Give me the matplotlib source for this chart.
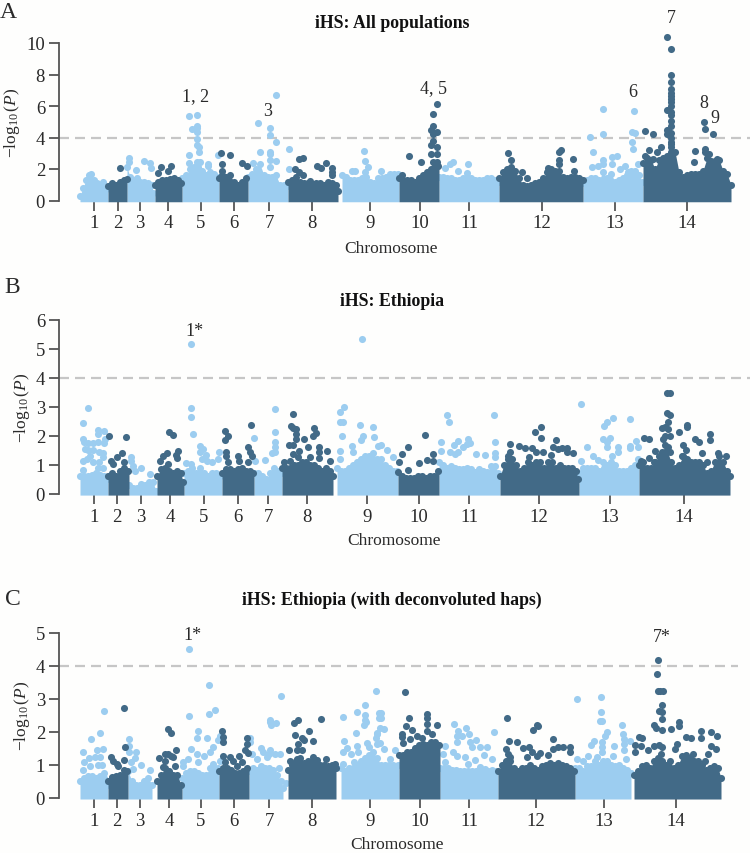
import matplotlib
matplotlib.use('Agg')
from matplotlib import pyplot as plt

plt.rcParams['font.family'] = ['Liberation Serif', 'DejaVu Serif']
plt.rcParams['mathtext.fontset'] = 'custom'
plt.rcParams['mathtext.rm'] = 'Liberation Serif'
plt.rcParams['mathtext.it'] = 'Liberation Serif:italic'
plt.rcParams['mathtext.default'] = 'rm'

light = '#9ccdf0'
dark = '#426a87'
ink = '#2a2a2a'
W, H = 750, 854

# x is genome position on one running scale, y is -log10(P)
# one row per chromosome: top of the solid mass of points
a_mass_x = [
    [80, 83, 86, 89, 91, 94, 97, 100, 103, 106],
    [108, 112, 116, 120, 124, 127],
    [127, 130, 133, 137, 140, 144, 148, 152, 153],
    [155, 158, 162, 166, 170, 174, 178, 181],
    [182, 186, 190, 194, 198, 202, 206, 210, 214, 218],
    [219, 222, 226, 230, 234, 238, 242, 246],
    [248, 252, 256, 260, 264, 268, 272, 276, 280, 284, 287],
    [288, 292, 296, 300, 304, 308, 312, 316, 320, 324, 328, 332, 336, 338],
    [342, 346, 350, 354, 358, 362, 366, 370, 374, 378, 382, 386, 390, 394, 398],
    [399, 403, 407, 411, 415, 419, 423, 427, 431, 435, 438],
    [439, 443, 447, 451, 455, 459, 463, 467, 471, 475, 479, 483, 487, 491, 495, 498],
    [499, 503, 507, 511, 515, 519, 523, 527, 531, 535, 539, 543, 547, 551, 555, 559, 563, 567, 571, 575, 579, 583],
    [583, 587, 591, 595, 599, 603, 607, 611, 615, 619, 623, 627, 631, 635, 639, 642],
    [643, 647, 651, 655, 659, 663, 667, 671, 675, 679, 683, 687, 691, 695, 699, 703, 707, 711, 715, 719, 723, 727, 731],
]
a_mass_y = [
    [0.3, 0.8, 1.3, 1.6, 1.7, 1.3, 1.1, 1.0, 1.2, 0.7],
    [0.9, 1.1, 1.0, 1.2, 1.3, 1.35],
    [2.1, 1.5, 1.3, 1.4, 1.2, 1.2, 1.1, 1.0, 0.5],
    [1.0, 1.2, 1.3, 1.3, 1.35, 1.4, 1.3, 1.1],
    [1.4, 1.6, 2.0, 2.1, 2.1, 1.9, 1.6, 1.8, 1.7, 1.5],
    [1.4, 1.6, 1.5, 1.6, 1.2, 1.0, 1.2, 1.4],
    [1.5, 1.7, 2.0, 2.3, 1.6, 1.5, 1.5, 1.6, 1.0, 1.0, 0.9],
    [1.2, 1.3, 1.5, 1.2, 1.1, 1.1, 1.0, 1.1, 1.1, 1.0, 1.2, 1.1, 1.0, 0.6],
    [1.6, 1.5, 1.3, 1.3, 1.3, 1.4, 1.5, 1.2, 1.1, 1.4, 1.4, 1.5, 1.7, 1.7, 1.7],
    [1.4, 1.3, 1.3, 1.3, 1.2, 1.4, 1.6, 1.8, 2.0, 2.2, 2.2],
    [1.5, 1.5, 1.4, 1.4, 1.3, 1.3, 1.4, 1.4, 1.4, 1.3, 1.3, 1.3, 1.4, 1.4, 1.3, 1.2],
    [1.4, 1.8, 2.0, 2.1, 1.9, 1.4, 1.0, 0.9, 1.0, 1.1, 1.2, 1.4, 1.8, 2.0, 1.9, 1.9, 1.5, 1.4, 1.5, 1.5, 1.4, 1.3],
    [1.1, 1.3, 1.4, 1.4, 1.3, 1.8, 1.4, 1.7, 1.2, 1.3, 1.4, 1.6, 1.9, 1.9, 1.6, 1.2],
    [2.4, 2.7, 2.6, 2.0, 2.6, 2.7, 2.8, 3.6, 3.1, 1.8, 1.5, 1.6, 1.7, 1.7, 1.7, 1.9, 2.7, 2.5, 2.5, 2.6, 1.9, 1.7, 1.0],
]
a_light_x = [189, 197, 192, 197, 197, 197, 197, 197, 199, 199, 189, 218, 189, 197, 200, 208, 208,
             129, 129, 144, 150, 151, 136,
             276, 258, 270, 270, 276, 289, 260, 270, 270, 253, 270, 276, 289, 270,
             364, 365, 368, 365, 352, 355, 381,
             603, 634, 590, 603, 632, 635, 593, 632, 633, 617, 612, 603, 603, 612, 598, 592, 625, 620, 628, 638,
             453, 450, 445, 458, 468, 467]
a_light_y = [5.35, 5.43, 4.55, 4.6, 4.35, 4.7, 3.9, 3.5, 3.4, 3.1, 2.9, 2.9, 2.4, 2.45, 2.45, 2.3, 2.2,
             2.7, 2.45, 2.5, 2.4, 2.05, 1.95,
             6.7, 4.9, 4.6, 4.15, 3.7, 3.25, 3.05, 3.1, 2.95, 2.4, 2.55, 2.5, 2.0, 2.1,
             3.15, 2.5, 2.1, 1.8, 1.85, 1.85, 1.9,
             5.8, 5.7, 4.05, 4.2, 4.35, 4.3, 3.1, 3.7, 3.3, 2.8, 2.75, 2.6, 2.3, 2.3, 2.2, 2.1, 2.2, 2.0, 1.8, 2.3,
             2.45, 2.3, 2.05, 1.85, 2.3, 1.75]
a_dark_x = [120, 158, 161, 171, 168, 221, 230, 222, 222, 242, 247,
            295, 299, 303, 299, 303, 317, 321, 326, 332, 332, 332, 310,
            667, 671, 671, 671, 671, 671, 671, 671, 671, 671, 667, 671, 671, 671, 671, 667, 671, 671, 667,
            671, 671, 671, 671, 645, 653, 661, 657, 649, 645, 653,
            704, 705, 713, 695, 705, 705, 709, 694, 717,
            437, 433, 433, 431, 437, 433, 433, 437, 431, 431, 437, 433, 437, 409, 421, 402,
            508, 511, 522, 527, 559, 561, 559, 559, 573, 548, 574]
a_dark_y = [2.05, 1.75, 2.15, 2.2, 1.85, 3.0, 2.9, 2.3, 1.9, 2.35, 2.2,
            2.0, 2.65, 2.7, 1.8, 1.6, 2.2, 2.05, 2.4, 2.05, 1.8, 1.6, 1.25,
            10.35, 9.65, 8.0, 7.5, 7.1, 6.85, 6.65, 6.45, 6.25, 6.0, 5.75, 5.4, 5.05, 4.75, 4.3, 4.5, 4.0, 3.7, 4.2,
            3.4, 3.1, 2.8, 5.6, 4.4, 4.2, 3.4, 3.1, 3.2, 2.8, 2.65,
            5.0, 4.55, 4.2, 3.15, 3.3, 3.05, 2.95, 2.45, 2.65,
            6.15, 5.5, 4.75, 4.5, 4.35, 4.2, 3.8, 3.4, 3.5, 2.95, 2.95, 2.45, 2.45, 2.85, 2.45, 1.65,
            3.0, 2.6, 1.8, 1.45, 3.1, 3.2, 2.6, 2.3, 2.65, 2.05, 1.85]
a_ticks = [94, 118, 140, 168, 201, 234, 269, 312, 370, 420, 469, 542, 615, 687]

b_mass_x = [
    [80, 84, 88, 92, 96, 100, 104, 107],
    [108, 112, 116, 120, 124, 128],
    [129, 133, 137, 141, 145, 149, 153, 156],
    [157, 161, 165, 169, 173, 177, 181, 183],
    [184, 188, 192, 196, 200, 204, 208, 212, 216, 220],
    [222, 226, 230, 234, 238, 242, 246, 250, 253],
    [254, 258, 262, 266, 270, 274, 278, 281],
    [282, 286, 290, 294, 298, 302, 306, 310, 314, 318, 322, 326, 330, 333],
    [337, 341, 345, 349, 353, 357, 361, 365, 369, 373, 377, 381, 385, 389, 393, 397],
    [398, 402, 406, 410, 414, 418, 422, 426, 430, 434, 438],
    [439, 443, 447, 451, 455, 459, 463, 467, 471, 475, 479, 483, 487, 491, 495, 498],
    [500, 504, 508, 512, 516, 520, 524, 528, 532, 536, 540, 544, 548, 552, 556, 560, 564, 568, 572, 576, 578],
    [579, 583, 587, 591, 595, 599, 603, 607, 611, 615, 619, 623, 627, 631, 635, 638],
    [639, 643, 647, 651, 655, 659, 663, 667, 671, 675, 679, 683, 687, 691, 695, 699, 703, 707, 711, 715, 719, 723, 727, 730],
]
b_mass_y = [
    [0.6, 0.6, 0.6, 0.65, 0.7, 0.65, 0.6, 0.5],
    [0.6, 0.7, 0.6, 0.8, 0.9, 0.8],
    [0.3, 0.2, 0.2, 0.35, 0.3, 0.4, 0.4, 0.1],
    [0.6, 0.85, 0.9, 0.8, 0.7, 0.8, 0.7, 0.4],
    [0.7, 0.8, 0.9, 0.7, 0.9, 0.7, 0.6, 0.7, 0.7, 0.6],
    [0.7, 0.85, 0.85, 0.8, 0.85, 0.9, 0.8, 0.8, 0.7],
    [0.7, 0.7, 0.6, 0.5, 0.7, 0.9, 0.8, 0.7],
    [0.9, 0.9, 0.9, 1.0, 1.0, 1.1, 1.1, 1.0, 1.0, 0.9, 0.8, 0.9, 0.8, 0.6],
    [0.9, 0.8, 0.8, 0.9, 1.0, 1.1, 1.2, 1.3, 1.3, 1.4, 1.2, 1.2, 1.0, 0.9, 0.8, 0.8],
    [0.75, 0.6, 0.55, 0.55, 0.55, 0.6, 0.6, 0.55, 0.6, 0.6, 0.8],
    [1.1, 1.0, 0.9, 0.95, 0.9, 0.85, 0.85, 0.9, 0.85, 0.75, 0.85, 0.8, 0.75, 0.95, 0.95, 0.7],
    [0.6, 1.0, 1.2, 1.2, 1.0, 0.8, 0.9, 1.1, 1.0, 1.1, 1.1, 0.9, 1.1, 1.1, 0.9, 1.0, 0.9, 0.9, 0.9, 0.8, 0.5],
    [0.7, 0.9, 0.9, 0.9, 0.9, 0.8, 1.1, 1.0, 1.1, 1.0, 0.8, 0.8, 0.8, 0.9, 1.0, 1.2],
    [1.0, 1.1, 0.9, 0.9, 1.1, 1.3, 1.4, 1.5, 1.1, 0.9, 1.0, 1.3, 1.2, 1.1, 1.1, 1.1, 1.0, 0.7, 0.8, 1.1, 1.3, 1.1, 0.8, 0.6],
]
b_light_x = [88, 83, 98, 104, 98, 83, 84, 88, 93, 98, 105, 104, 85, 88, 93, 90, 87, 83, 103, 99, 93, 99, 103, 83, 98, 103,
             131, 131, 133, 135, 141, 150,
             191, 191, 191, 193, 200, 203, 200, 206, 219, 218, 207, 212, 186, 191, 202,
             275, 275, 254, 275, 275, 272, 275, 265, 255,
             344, 340, 340, 343, 362, 360, 373, 342, 363, 374, 361, 352, 378, 340, 353, 340,
             447, 449, 494, 581, 613, 607, 604, 630, 636, 603, 610, 607, 607, 587, 618, 618, 630, 630, 638, 612, 593, 581, 598,
             441, 458, 454, 468, 467, 470, 463, 495, 441, 450, 458, 455, 476, 485, 495, 495, 381, 387, 393]
b_light_y = [2.97, 2.45, 2.2, 2.17, 2.05, 1.9, 1.77, 1.75, 1.75, 1.77, 1.88, 1.75, 1.55, 1.5, 1.52, 1.3, 1.2, 1.14, 1.4, 1.43, 1.08, 1.1, 1.25, 0.83, 0.9, 0.9,
             1.28, 1.14, 0.97, 0.8, 0.9, 0.67,
             5.16, 2.97, 2.65, 2.07, 1.65, 1.55, 1.43, 1.35, 1.45, 1.2, 1.14, 1.08, 1.05, 1.03, 1.2,
             2.93, 2.14, 1.93, 1.77, 1.6, 1.4, 1.43, 1.17, 1.14,
             3.0, 2.83, 2.48, 2.48, 5.33, 2.38, 2.31, 2.0, 2.0, 1.95, 1.86, 1.65, 1.65, 1.47, 1.43, 1.2,
             2.7, 2.48, 2.72, 3.1, 2.62, 2.46, 2.34, 2.59, 1.83, 1.9, 1.93, 1.77, 1.6, 1.62, 1.6, 1.43, 1.65, 1.57, 1.62, 1.31, 1.31, 1.14, 1.17,
             1.79, 1.83, 1.69, 1.88, 1.71, 1.75, 1.6, 1.79, 1.48, 1.45, 1.45, 1.37, 1.37, 1.33, 1.4, 1.25, 1.69, 1.52, 1.28]
b_dark_x = [109, 126, 122, 117, 111, 124, 113,
            169, 173, 178, 176, 177, 167, 163, 160, 168,
            225, 228, 225, 251, 226, 226, 248, 250, 252, 228, 238, 239, 248,
            293, 291, 293, 296, 296, 296, 314, 316, 313, 304, 289, 293, 308, 319, 319, 327, 319, 299, 293, 284, 290, 298, 310, 330,
            667, 670, 667, 670, 668, 662, 665, 668, 665, 670, 663, 665, 668, 662, 670, 644, 649, 655, 641, 649, 654,
            679, 687, 687, 710, 710, 695, 699, 683, 686, 682, 702, 718, 726, 707,
            425, 408, 402, 433, 427, 419, 433, 399, 408,
            541, 535, 541, 556, 510, 519, 525, 532, 553, 558, 562, 567, 567, 573, 536, 543, 551, 529, 510, 508]
b_dark_y = [2.0, 1.97, 1.41, 1.25, 1.14, 1.08, 1.02,
            2.14, 2.03, 1.48, 1.34, 1.22, 1.4, 1.31, 1.14, 1.02,
            2.17, 2.0, 1.85, 2.38, 1.45, 1.31, 1.6, 1.45, 1.31, 1.1, 1.29, 1.14, 1.08,
            2.76, 2.34, 2.26, 2.23, 2.06, 1.9, 2.26, 2.09, 2.0, 1.87, 1.69, 1.69, 1.62, 1.62, 1.45, 1.48, 1.22, 1.48, 1.37, 1.1, 1.14, 1.25, 1.25, 1.14,
            3.48, 3.48, 2.77, 2.7, 2.48, 2.25, 2.29, 2.23, 2.0, 1.98, 1.89, 1.69, 1.6, 1.43, 1.45, 1.91, 1.87, 1.48, 1.14, 1.22, 1.08,
            2.14, 2.37, 2.29, 2.07, 1.86, 1.9, 1.79, 1.69, 1.52, 1.31, 1.39, 1.39, 1.31, 1.08,
            2.02, 1.62, 1.38, 1.37, 1.17, 1.05, 1.14, 1.08, 0.83,
            2.29, 2.14, 1.91, 1.86, 1.71, 1.66, 1.56, 1.57, 1.6, 1.54, 1.56, 1.56, 1.45, 1.4, 1.43, 1.43, 1.34, 1.28, 1.43, 1.31]
b_ticks = [94, 117, 141, 170, 204, 238, 268, 307, 367, 419, 469, 539, 610, 684]

c_mass_x = [
    [80, 84, 88, 92, 96, 100, 104, 107],
    [108, 112, 116, 120, 124, 127],
    [128, 132, 136, 140, 144, 148, 152],
    [157, 161, 165, 169, 173, 177, 181],
    [182, 186, 190, 194, 198, 202, 206, 210, 214, 218],
    [219, 223, 227, 231, 235, 239, 243, 247],
    [249, 253, 257, 261, 265, 269, 273, 277, 281, 283],
    [288, 292, 296, 300, 304, 308, 312, 316, 320, 324, 328, 332, 336],
    [341, 345, 349, 353, 357, 361, 365, 369, 373, 377, 381, 385, 389, 393, 398],
    [399, 403, 407, 411, 415, 419, 423, 427, 431, 435, 439],
    [440, 444, 448, 452, 456, 460, 464, 468, 472, 476, 480, 484, 488, 492, 496],
    [498, 502, 506, 510, 514, 518, 522, 526, 530, 534, 538, 542, 546, 550, 554, 558, 562, 566, 570, 574],
    [575, 579, 583, 587, 591, 595, 599, 603, 607, 611, 615, 619, 623, 627, 631],
    [634, 638, 642, 646, 650, 654, 658, 662, 666, 670, 674, 678, 682, 686, 690, 694, 698, 702, 706, 710, 714, 718, 721],
]
c_mass_y = [
    [0.5, 0.6, 0.65, 0.65, 0.6, 0.65, 0.6, 0.4],
    [0.5, 0.6, 0.65, 0.7, 0.85, 0.8],
    [0.8, 0.5, 0.4, 0.4, 0.5, 0.6, 0.4],
    [0.5, 0.7, 0.9, 0.8, 0.7, 0.7, 0.4],
    [0.6, 0.75, 0.8, 0.8, 0.75, 0.7, 0.7, 0.9, 0.9, 0.9],
    [0.8, 0.9, 0.9, 0.85, 0.75, 0.75, 0.8, 0.9],
    [0.8, 0.9, 0.85, 0.95, 0.9, 0.9, 0.85, 0.7, 0.5, 0.3],
    [0.85, 1.0, 1.1, 1.2, 1.05, 1.1, 1.1, 1.1, 1.0, 1.0, 0.95, 1.0, 0.9],
    [0.9, 0.8, 0.9, 0.9, 1.0, 1.1, 1.2, 1.3, 1.4, 1.2, 1.0, 1.0, 1.0, 1.0, 1.0],
    [1.3, 1.3, 1.4, 1.4, 1.5, 1.6, 1.5, 1.6, 1.7, 1.7, 1.6],
    [0.9, 0.9, 0.9, 0.85, 0.85, 0.8, 0.8, 0.8, 0.8, 0.8, 0.8, 0.8, 0.8, 0.85, 0.8],
    [0.8, 1.0, 1.1, 1.1, 0.9, 0.8, 0.9, 0.9, 1.0, 0.9, 0.85, 0.95, 1.0, 1.05, 1.0, 1.05, 1.0, 0.95, 0.9, 0.8],
    [0.9, 0.9, 0.8, 0.95, 0.95, 1.1, 1.0, 1.1, 1.1, 1.0, 0.95, 1.0, 0.9, 0.85, 0.75],
    [0.7, 0.8, 0.95, 1.0, 0.9, 1.1, 1.2, 1.1, 1.0, 1.1, 0.9, 1.0, 1.25, 1.3, 1.2, 1.1, 1.1, 1.0, 0.85, 0.9, 0.95, 0.9, 0.6],
]
c_light_x = [189, 209, 215, 209, 189, 104, 100, 91, 97, 103, 83, 89, 95, 100, 84, 98, 102, 90, 83, 104,
             129, 129, 129, 136, 135, 131, 141, 150, 133,
             198, 197, 207, 218, 220, 191, 213, 210, 197, 188, 204, 183, 183, 213, 220, 198, 250, 250,
             281, 270, 270, 271, 276, 261, 270, 263, 269, 275, 280, 252, 257, 267, 279, 286,
             343, 357, 365, 365, 365, 366, 364, 376, 356, 377, 344, 347, 357, 343, 351, 358, 367, 369, 379, 379, 376, 377, 354, 343,
             381, 381, 380, 384, 377, 380, 384, 395, 390,
             454, 458, 466, 469, 457, 457, 462, 494, 470, 476, 480, 487, 472, 453, 457, 465, 484, 492, 475, 445, 443, 445, 468, 485, 480,
             577, 601, 601, 600, 602, 622, 607, 623, 605, 624, 624, 624, 630, 594, 591, 602, 602, 614, 602, 588, 577, 583, 613, 626, 597]
c_light_y = [4.5, 3.41, 2.66, 2.54, 2.47, 2.63, 1.96, 1.78, 1.45, 1.47, 1.37, 1.2, 1.22, 1.24, 1.09, 0.99, 1.0, 0.97, 0.84, 0.75,
             1.78, 1.58, 1.37, 1.37, 1.19, 1.07, 0.99, 0.84, 0.87,
             2.02, 1.81, 1.81, 1.76, 1.88, 1.47, 1.53, 1.37, 1.32, 1.17, 1.25, 1.07, 0.97, 1.02, 1.12, 1.07, 1.81, 1.68,
             3.08, 2.36, 2.28, 2.2, 2.25, 1.5, 1.45, 1.37, 1.32, 1.32, 1.32, 1.32, 1.17, 1.22, 0.89, 0.46,
             2.44, 2.6, 2.81, 2.5, 2.35, 2.28, 2.2, 3.23, 1.96, 1.96, 1.73, 1.5, 1.56, 1.37, 1.32, 1.37, 1.65, 1.53, 2.56, 2.43, 1.8, 1.63, 1.07, 1.02,
             2.58, 2.43, 2.11, 2.08, 1.93, 1.65, 1.47, 1.45, 1.17,
             2.23, 2.03, 2.11, 1.92, 1.86, 1.68, 1.88, 1.99, 1.68, 1.75, 1.53, 1.53, 1.53, 1.39, 1.27, 1.24, 1.3, 1.17, 1.15, 1.58, 1.32, 1.07, 1.02, 0.87, 0.92,
             2.99, 3.04, 2.6, 2.32, 2.32, 2.2, 1.99, 1.93, 1.88, 1.78, 1.63, 1.45, 1.73, 1.73, 1.61, 1.68, 1.53, 1.58, 1.37, 1.25, 1.17, 1.12, 1.27, 1.17, 1.22]
c_dark_x = [124, 125, 124, 111, 113, 117, 118, 112,
            168, 171, 176, 173, 168, 165, 159, 165, 175, 163, 171,
            222, 223, 223, 223, 230, 247, 247, 245, 248, 239, 233, 225, 242, 237,
            298, 294, 321, 309, 313, 295, 302, 304, 298, 289, 297, 302, 290, 313, 326, 317, 297, 335,
            658, 657, 658, 660, 663, 662, 659, 662, 662, 654, 656, 662, 671, 679, 679, 701, 701, 711, 717, 686, 691, 711, 716,
            639, 642, 635, 641, 635, 654, 659, 662, 648, 661, 677, 675, 693, 705, 708,
            405, 409, 427, 427, 406, 412, 427, 437, 427, 402, 402, 410, 432, 417, 422, 423, 403,
            507, 538, 533, 537, 553, 509, 517, 523, 529, 553, 558, 563, 570, 570, 548, 532, 540, 537, 527, 506, 508, 510]
c_dark_y = [2.72, 1.54, 1.15, 1.24, 1.12, 1.02, 0.95, 0.62,
            2.08, 1.96, 1.45, 1.22, 1.32, 1.32, 1.2, 1.12, 0.97, 0.92, 1.27,
            2.02, 1.83, 1.69, 1.26, 1.22, 1.81, 1.63, 1.45, 1.34, 1.25, 1.12, 1.07, 1.07, 0.97,
            2.35, 2.26, 2.38, 2.02, 1.72, 1.9, 1.8, 1.75, 1.63, 1.44, 1.45, 1.45, 1.12, 1.24, 1.17, 1.15, 1.17, 1.02,
            4.16, 3.75, 3.23, 3.22, 3.22, 2.8, 2.64, 2.6, 2.38, 2.2, 2.11, 2.06, 2.08, 2.3, 2.16, 2.02, 1.81, 1.99, 1.87, 1.84, 1.81, 1.58, 1.48,
            1.84, 1.82, 1.6, 1.58, 1.39, 1.58, 1.61, 1.53, 1.45, 1.32, 1.63, 1.47, 1.32, 1.12, 1.32,
            3.2, 2.41, 2.54, 2.43, 2.17, 2.05, 2.23, 2.2, 2.03, 1.92, 1.85, 1.78, 1.93, 1.88, 1.81, 1.63, 1.65,
            2.41, 2.16, 2.05, 2.2, 1.78, 1.71, 1.69, 1.52, 1.55, 1.47, 1.53, 1.53, 1.53, 1.39, 1.3, 1.37, 1.35, 1.27, 1.22, 1.47, 1.32, 1.22]
c_ticks = [94, 117, 140, 169, 201, 234, 269, 312, 370, 420, 469, 536, 604, 676]

chrom_names = ['1', '2', '3', '4', '5', '6', '7', '8', '9', '10', '11', '12', '13', '14']
threshold = 4
fig = plt.figure(figsize=(7.5, 8.54), dpi=100, facecolor='#fefefd')


def panel(y0, y_top, ymax, yticks, mass_x, mass_y, lx, ly, dx, dy, ticks, title, title_y, letter, letter_x, letter_y,
          xlabel_x, xlabel_y, line_end, notes):
    ax = fig.add_axes([59 / W, 1 - y0 / H, (W - 59) / W, (y0 - y_top) / H], facecolor='none')
    ax.set_xlim(59, W)
    ax.set_ylim(0, ymax)
    for i in range(len(mass_x)):
        col = light if i % 2 == 0 else dark
        fx = list(mass_x[i])
        fy = list(mass_y[i])
        # close the small gap to the next chromosome so the blocks touch
        if i + 1 < len(mass_x) and mass_x[i + 1][0] - fx[-1] < 3:
            fx.append(mass_x[i + 1][0])
            fy.append(fy[-1])
        ax.fill_between(fx, -ymax * 0.008, fy, color=col, lw=0, zorder=2 + i % 2, clip_on=False)
        ax.scatter(mass_x[i], mass_y[i], s=26, color=col, lw=0, clip_on=False, zorder=2 + i % 2)
    ax.scatter(lx, ly, s=26, color=light, lw=0, clip_on=False, zorder=2)
    ax.scatter(dx, dy, s=26, color=dark, lw=0, clip_on=False, zorder=3)
    ax.plot([59, line_end], [threshold, threshold], color='#c6c6c6', lw=1.6, dashes=(4.5, 2.7), zorder=1)
    for s in ['top', 'right', 'bottom']:
        ax.spines[s].set_visible(False)
    ax.spines['left'].set_color('#555555')
    ax.spines['left'].set_linewidth(1.3)
    ax.spines['left'].set_bounds(0, ymax)
    ax.set_yticks(yticks)
    ax.set_xticks(ticks)
    ax.set_xticklabels(chrom_names)
    ax.tick_params(axis='y', length=7, width=1.3, color='#555555', labelsize=13.5, labelcolor=ink, pad=3)
    ax.tick_params(axis='x', length=7, width=1.3, color='#555555', labelsize=13.5, labelcolor=ink, pad=3)
    ax.set_ylabel(r'$-\mathrm{log}_{10}\,(\mathit{P})$', fontsize=12.5, color=ink, labelpad=3)
    fig.text(xlabel_x / W, 1 - xlabel_y / H, 'Chromosome', fontsize=12.5, color=ink, ha='center', va='center')
    fig.text(392 / W, 1 - title_y / H, title, fontsize=12.8, fontweight='bold', color='#111111', ha='center', va='center')
    fig.text(letter_x / W, 1 - letter_y / H, letter, fontsize=17, color=ink, ha='center', va='center')
    for x, y, t in notes:
        ax.text(x, y, t, fontsize=13, color=ink, ha='center', va='center', clip_on=False)


panel(201.5, 44, 10, [0, 2, 4, 6, 8, 10], a_mass_x, a_mass_y, a_light_x, a_light_y, a_dark_x, a_dark_y, a_ticks,
      'iHS: All populations', 23, 'A', 8, 12, 391, 249, W,
      [(196, 6.65, '1, 2'), (268, 5.7, '3'), (434, 7.2, '4, 5'), (633, 6.9, '6'), (671, 11.65, '7'), (704, 6.2, '8'), (715, 5.3, '9')])
panel(494.7, 320.7, 6, [0, 1, 2, 3, 4, 5, 6], b_mass_x, b_mass_y, b_light_x, b_light_y, b_dark_x, b_dark_y, b_ticks,
      'iHS: Ethiopia', 301, 'B', 12, 288, 394, 541, W,
      [(194, 5.62, '1*')])
panel(798.7, 633.7, 5, [0, 1, 2, 3, 4, 5], c_mass_x, c_mass_y, c_light_x, c_light_y, c_dark_x, c_dark_y, c_ticks,
      'iHS: Ethiopia (with deconvoluted haps)', 600, 'C', 13, 600, 397, 845, 738,
      [(192, 4.95, '1*'), (662, 4.87, '7*')])

plt.savefig('out.png', dpi=100, facecolor=fig.get_facecolor())
